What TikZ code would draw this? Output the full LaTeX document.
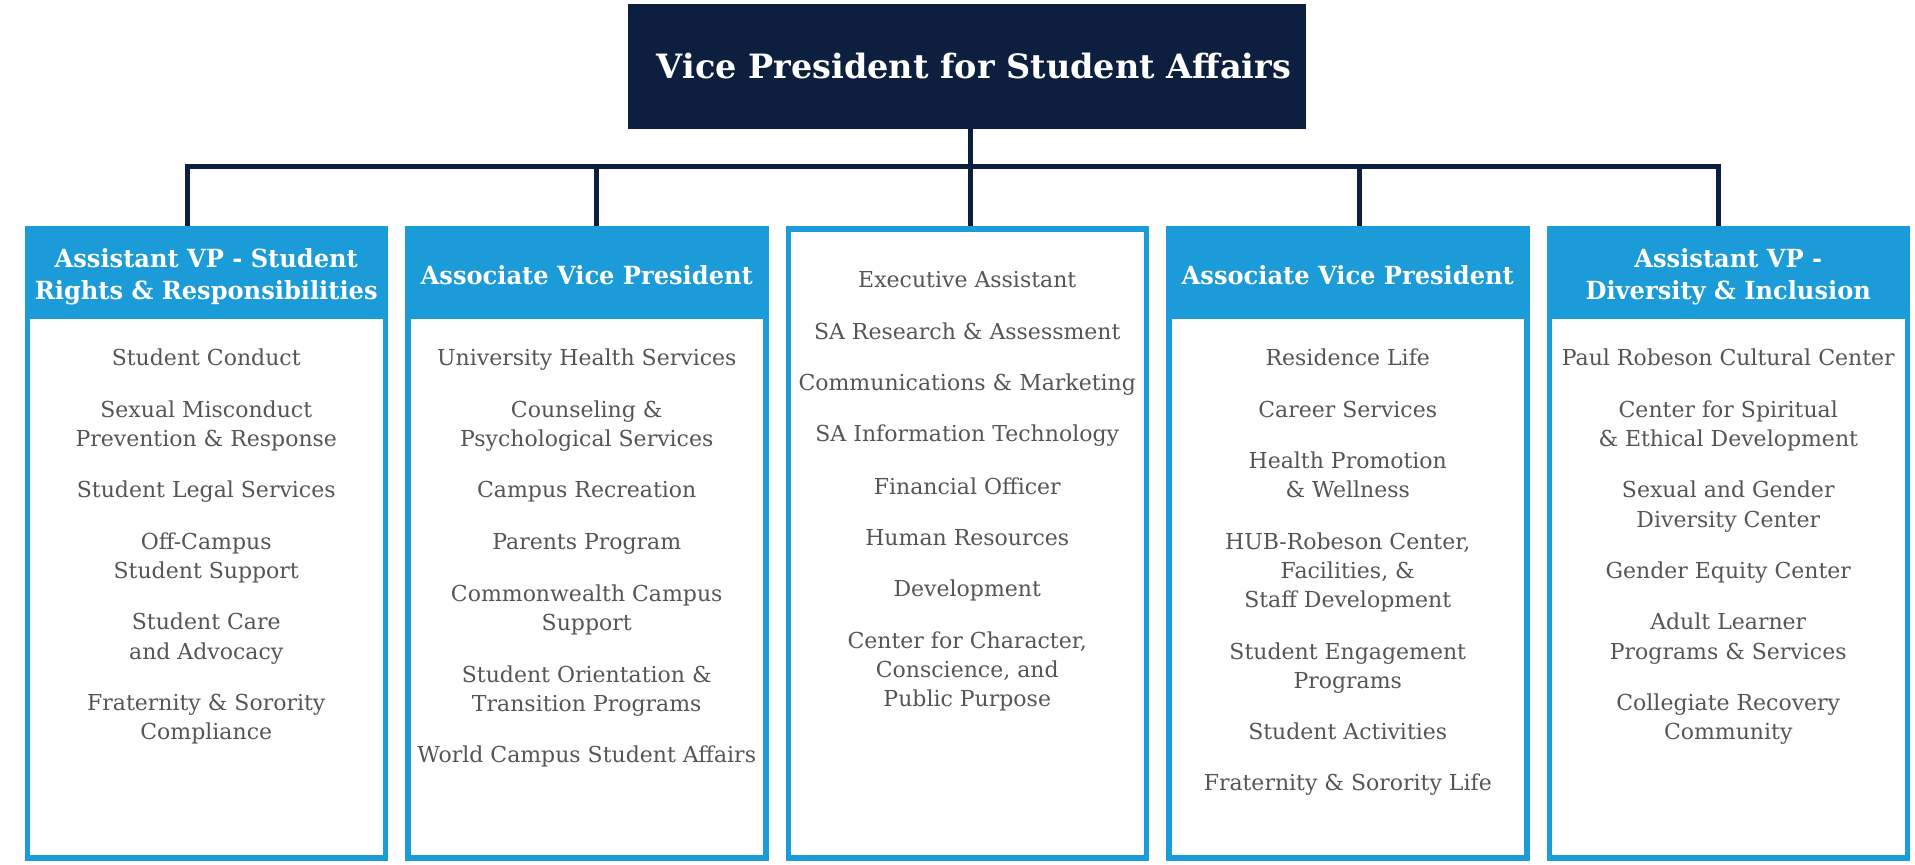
\documentclass[tikz,border=0pt]{standalone}
\usepackage{fontspec}
\setmainfont{DejaVu Serif}
\newfontfamily\hdfont[FakeStretch=0.965]{DejaVu Serif}
\newfontfamily\bodyfont{DejaVu Serif}
\definecolor{navy}{HTML}{0D1F3F}
\definecolor{sky}{HTML}{1B9BD7}
\definecolor{txtgray}{HTML}{555555}
\tikzset{
  colbox/.style={draw=sky, line width=5.5pt, minimum width=358pt, minimum height=629pt, inner sep=0pt},
  hdband/.style={fill=sky, minimum width=363.5pt, minimum height=92.5pt, inner sep=0pt},
  hdtext/.style={text=white, align=center, inner sep=0pt, yshift=-2.2pt,
    font=\hdfont\bfseries\fontsize{25}{31.8}\selectfont},
  topbox/.style={fill=navy, minimum width=678pt, minimum height=125pt, inner sep=0pt, text=white,
    font=\bfseries\fontsize{33.5}{40}\selectfont},
  itm/.style={align=center, inner sep=0pt, text=txtgray, yshift=-2.2pt, font=\bodyfont\fontsize{22}{29.3}\selectfont},
  bar/.style={draw=navy, line width=5pt, line join=miter}
}
\begin{document}
\begin{tikzpicture}[x=1pt,y=-1pt]
\useasboundingbox (0,0) rectangle (1915,865);
% top box
\node[topbox] (vp) at (967,66.5) {\raisebox{-1.2pt}{\hspace*{14pt}Vice President for Student Affairs}};
% column boxes
\node[colbox] (b1) at (206.25,543.25) {};
\node[colbox] (b2) at (586.75,543.25) {};
\node[colbox] (b3) at (967.25,543.25) {};
\node[colbox] (b4) at (1347.75,543.25) {};
\node[colbox] (b5) at (1728.25,543.25) {};
% header bands
\node[hdband] (h1) at (206.25,272.25) {};
\node[hdband] (h2) at (586.75,272.25) {};
\node[hdband] (h4) at (1347.75,272.25) {};
\node[hdband] (h5) at (1728.25,272.25) {};
\node[hdtext] (t1) at (206.25,274.8) {Assistant VP - Student\strut\\Rights \& Responsibilities\strut};
\node[hdtext] (t2) at (586.75,276) {Associate Vice President\strut};
\node[hdtext] (t4) at (1347.75,276) {Associate Vice President\strut};
\node[hdtext] (t5) at (1728.25,274.8) {Assistant VP -\strut\\Diversity \& Inclusion\strut};
% connectors
\coordinate (j1) at (187,166.5);
\coordinate (j2) at (596,166.5);
\coordinate (jc) at (970,166.5);
\coordinate (j4) at (1359,166.5);
\coordinate (j5) at (1718,166.5);
\draw[bar] (j1 |- b1.north) -- (j1) -- (j5) -- (j5 |- b5.north);
\draw[bar] (j2) -- (j2 |- b2.north);
\draw[bar] (vp.south -| jc) -- (jc |- b3.north);
\draw[bar] (j4) -- (j4 |- b4.north);
% column 1
\node[itm] (i11) at (206.25,357.8) {Student Conduct\strut};
\node[itm] (i12) at (206.25,423.8) {Sexual Misconduct\strut\\Prevention \& Response\strut};
\node[itm] (i13) at (206.25,489.7) {Student Legal Services\strut};
\node[itm] (i14) at (206.25,555.7) {Off-Campus\strut\\Student Support\strut};
\node[itm] (i15) at (206.25,636.3) {Student Care\strut\\and Advocacy\strut};
\node[itm] (i16) at (206.25,716.9) {Fraternity \& Sorority\strut\\Compliance\strut};
% column 2
\node[itm] (i21) at (586.75,357.8) {University Health Services\strut};
\node[itm] (i22) at (586.75,423.8) {Counseling \&\strut\\Psychological Services\strut};
\node[itm] (i23) at (586.75,489.7) {Campus Recreation\strut};
\node[itm] (i24) at (586.75,541.0) {Parents Program\strut};
\node[itm] (i25) at (586.75,608.2) {Commonwealth Campus\strut\\Support\strut};
\node[itm] (i26) at (586.75,688.8) {Student Orientation \&\strut\\Transition Programs\strut};
\node[itm] (i27) at (586.75,754.8) {World Campus Student Affairs\strut};
% column 3
\node[itm] (i31) at (967.25,279.7) {Executive Assistant\strut};
\node[itm] (i32) at (967.25,331.0) {SA Research \& Assessment\strut};
\node[itm] (i33) at (967.25,382.3) {Communications \& Marketing\strut};
\node[itm] (i34) at (967.25,433.6) {SA Information Technology\strut};
\node[itm] (i35) at (967.25,486.1) {Financial Officer\strut};
\node[itm] (i36) at (967.25,537.4) {Human Resources\strut};
\node[itm] (i37) at (967.25,588.7) {Development\strut};
\node[itm] (i38) at (967.25,669.3) {Center for Character,\strut\\Conscience, and\strut\\Public Purpose\strut};
% column 4
\node[itm] (i41) at (1347.75,357.8) {Residence Life\strut};
\node[itm] (i42) at (1347.75,409.1) {Career Services\strut};
\node[itm] (i43) at (1347.75,475.1) {Health Promotion\strut\\\& Wellness\strut};
\node[itm] (i44) at (1347.75,570.4) {HUB-Robeson Center,\strut\\Facilities, \&\strut\\Staff Development\strut};
\node[itm] (i45) at (1347.75,665.6) {Student Engagement\strut\\Programs\strut};
\node[itm] (i46) at (1347.75,731.6) {Student Activities\strut};
\node[itm] (i47) at (1347.75,782.9) {Fraternity \& Sorority Life\strut};
% column 5
\node[itm] (i51) at (1728.25,357.8) {Paul Robeson Cultural Center\strut};
\node[itm] (i52) at (1728.25,423.8) {Center for Spiritual\strut\\\& Ethical Development\strut};
\node[itm] (i53) at (1728.25,504.4) {Sexual and Gender\strut\\Diversity Center\strut};
\node[itm] (i54) at (1728.25,570.4) {Gender Equity Center\strut};
\node[itm] (i55) at (1728.25,636.3) {Adult Learner\strut\\Programs \& Services\strut};
\node[itm] (i56) at (1728.25,716.9) {Collegiate Recovery\strut\\Community\strut};
\end{tikzpicture}
\end{document}
